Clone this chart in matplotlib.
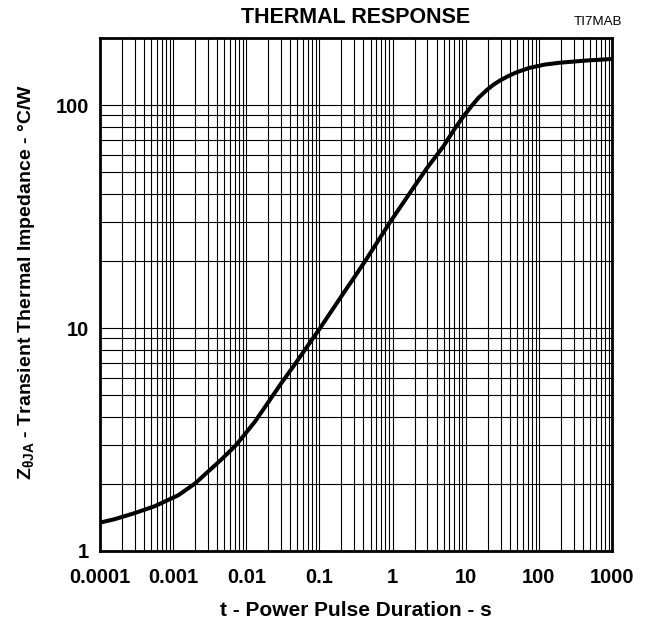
import matplotlib
matplotlib.use("Agg")
import matplotlib.pyplot as plt
from matplotlib.ticker import LogLocator, NullFormatter, FixedLocator, FixedFormatter

# --- Dados ---
t_s = [1e-4, 1.6e-4, 3e-4, 5.65e-4, 1.18e-3, 2e-3, 3e-3, 4.6e-3, 7e-3, 8.6e-3,
       1.31e-2, 2e-2, 3e-2, 4.5e-2, 6.7e-2, 0.1, 0.212, 0.3, 0.44, 0.92,
       1.92, 2.93, 4.9, 7.0, 9.3, 12.0, 15.0, 19.5, 24.0, 30.0, 40.0, 50.0, 75.0,
       120.0, 195.0, 450.0, 1000.0]
z_ja = [1.34, 1.39, 1.48, 1.59, 1.78, 2.01, 2.27, 2.58, 2.95, 3.2,
        3.80, 4.65, 5.65, 6.8, 8.2, 9.9, 14.3, 16.9, 20.4, 29.8,
        42.5, 52.0, 65.0, 78.0, 89.0, 99.0, 108.0, 117.0, 123.5, 129.5, 136.0, 140.5, 147.0,
        152.0, 155.0, 158.5, 161.0]

x_ticks = [1e-4, 1e-3, 1e-2, 1e-1, 1, 10, 100, 1000]
x_labels = ["0.0001", "0.001", "0.01", "0.1", "1", "10", "100", "1000"]
y_ticks = [1, 10, 100]
y_labels = ["1", "10", "100"]

plt.rcParams["font.family"] = ["Liberation Sans", "DejaVu Sans"]
plt.rcParams["mathtext.fontset"] = "custom"
plt.rcParams["mathtext.rm"] = "Liberation Sans:bold"
plt.rcParams["mathtext.bf"] = "Liberation Sans:bold"
plt.rcParams["mathtext.it"] = "Liberation Sans:bold"

fig = plt.figure(figsize=(6.52, 6.23), dpi=100)
ax = fig.add_axes([100 / 652, 1 - 551 / 623, 512 / 652, 513 / 623])

ax.plot(t_s, z_ja, color="black", lw=2.9, solid_joinstyle="round", zorder=3)

ax.set_xscale("log")
ax.set_yscale("log")
ax.set_xlim(1e-4, 1000)
ax.set_ylim(1, 200)

# grade (linhas principais e secundárias)
ax.xaxis.set_minor_locator(LogLocator(base=10, subs=[2, 3, 4, 5, 6, 7, 8, 9], numticks=30))
ax.yaxis.set_minor_locator(FixedLocator([v * d for d in (1, 10) for v in range(2, 10)]))
ax.xaxis.set_minor_formatter(NullFormatter())
ax.yaxis.set_minor_formatter(NullFormatter())
ax.grid(True, which="both", color="black", lw=0.8)

ax.xaxis.set_major_locator(FixedLocator(x_ticks))
ax.xaxis.set_major_formatter(FixedFormatter(x_labels))
ax.yaxis.set_major_locator(FixedLocator(y_ticks))
ax.yaxis.set_major_formatter(FixedFormatter(y_labels))
ax.tick_params(which="both", length=0)
ax.tick_params(axis="x", pad=12, labelsize=14.5)
ax.tick_params(axis="y", pad=8, labelsize=14.5)
for lbl in ax.get_xticklabels() + ax.get_yticklabels():
    lbl.set_fontweight("bold")

for sp in ax.spines.values():
    sp.set_linewidth(2.0)
    sp.set_color("black")

fig.text(356 / 652, 1 - 611 / 623, "t - Power Pulse Duration - s", ha="center", va="center",
         fontsize=15, fontweight="bold")
fig.text(27 / 652, 1 - 282 / 623,
         r"$\mathregular{Z_{\theta JA}}$ - Transient Thermal Impedance - °C/W",
         ha="center", va="center", rotation=90, fontsize=14, fontweight="bold")

fig.text(356 / 652, 1 - 17.5 / 623, "THERMAL RESPONSE", ha="center", va="center",
         fontsize=15.5, fontweight="bold")
fig.text(622 / 652, 1 - 22 / 623, "TI7MAB", ha="right", va="center", fontsize=9.6)

fig.savefig("out.png", dpi=100)
